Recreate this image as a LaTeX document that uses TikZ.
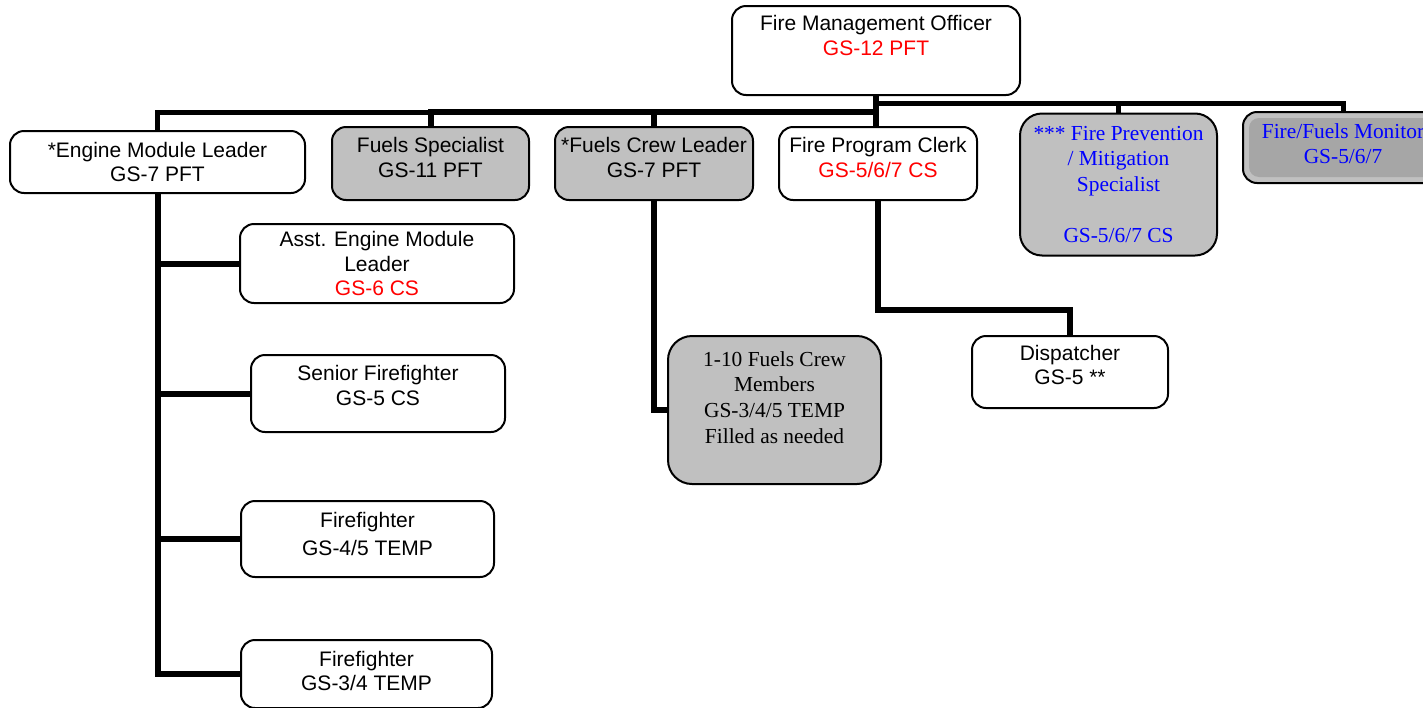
\documentclass[tikz,border=0pt]{standalone}
\usepackage{fontspec}
\setmainfont{Liberation Sans}
\newfontfamily\tnr{Liberation Serif}
\definecolor{gsred}{RGB}{255,0,0}
\definecolor{gsblue}{RGB}{0,0,255}
\definecolor{boxgray}{RGB}{192,192,192}
\definecolor{mongray}{RGB}{166,166,166}
\newcommand{\padline}[1]{\\[#1]\mbox{}}

\begin{document}
\begin{tikzpicture}[x=0.5pt, y=-0.5pt,
    posbox/.style={draw, line width=1pt, rounded corners=7pt, align=center, inner sep=2pt,
        font=\fontsize{10.5}{12.3}\selectfont},
    graybox/.style={posbox, fill=boxgray},
    serif/.style={font=\tnr\fontsize{10.7}{12.8}\selectfont},
    link/.style={line width=3pt}]
    \useasboundingbox (0,0) rectangle (1423,707);

    \node[posbox, minimum width=144pt, minimum height=44.5pt] (fmo) at (876,50.5)
        {Fire Management Officer\\\textcolor{gsred}{GS-12 PFT}\padline{3pt}};

    \node[posbox, minimum width=147.5pt, minimum height=31pt] (engine) at (157.5,162)
        {*Engine Module Leader\\GS-7 PFT};
    \node[graybox, minimum width=98.5pt, minimum height=36.5pt] (fuelsspec) at (430.5,163.5)
        {Fuels Specialist\\GS-11 PFT\padline{-6pt}};
    \node[graybox, minimum width=99pt, minimum height=36.5pt] (fuelslead) at (654,163.5)
        {*Fuels Crew Leader\\GS-7 PFT\padline{-6pt}};
    \node[posbox, minimum width=99pt, minimum height=36.5pt] (clerk) at (878,163.5)
        {Fire Program Clerk\\\textcolor{gsred}{GS-5/6/7 CS}\padline{-6pt}};
    \node[graybox, serif, text=gsblue, rounded corners=11pt, minimum width=98.5pt, minimum height=71pt]
        (prevention) at (1118.5,184.5)
        {*** Fire Prevention\\/ Mitigation\\Specialist\\[12.8pt]GS-5/6/7 CS};
    \node[graybox, serif, text=gsblue, minimum width=100pt, minimum height=35.5pt,
        path picture={\fill[mongray, rounded corners=5pt]
            ([shift={(3pt,-3pt)}]path picture bounding box.north west) rectangle
            ([shift={(-3pt,3pt)}]path picture bounding box.south east);}]
        (monitor) at (1343,147.5) {Fire/Fuels Monitor\\GS-5/6/7\padline{-9pt}};

    \node[posbox, minimum width=137pt, minimum height=39.5pt] (asst) at (377,263.5)
        {Asst. Engine Module\\Leader\\\textcolor{gsred}{GS-6 CS}};
    \node[posbox, minimum width=127pt, minimum height=38.5pt] (senior) at (378,393.5)
        {Senior Firefighter\\GS-5 CS\padline{-4pt}};
    \node[posbox, minimum width=126.5pt, minimum height=38pt] (ff1) at (367.5,539)
        {Firefighter\\[2pt]GS-4/5 TEMP\padline{-7pt}};
    \node[posbox, minimum width=125.5pt, minimum height=34pt] (ff2) at (366.5,674)
        {Firefighter\\GS-3/4 TEMP\padline{-9pt}};

    \node[graybox, serif, rounded corners=12pt, minimum width=106.5pt, minimum height=74pt] (crew) at (774.5,410)
        {1-10 Fuels Crew\\Members\\GS-3/4/5 TEMP\\Filled as needed\padline{0pt}};
    \node[posbox, minimum width=98pt, minimum height=36pt] (dispatcher) at (1070,372)
        {Dispatcher\\GS-5 **\padline{-5pt}};

    \coordinate (lbus) at (876,112);
    \coordinate (rbus) at (876,103);
    \coordinate (elbow) at (878,310);

    \draw[link] (fmo.south) -- (fmo.south |- clerk.north);
    \draw[link, line width=2.5pt] (engine.north) |- (lbus);
    \draw[link] (fuelsspec.north) |- (lbus);
    \draw[link] (fuelslead.north) -- (fuelslead.north |- lbus);
    \draw[link, line width=2.5pt] (rbus) -| (prevention.north);
    \draw[link, line width=2.5pt] (rbus) -| (monitor.north);

    \draw[link] (engine.south) |- (ff2.west);
    \foreach \n in {asst, senior, ff1}
        \draw[link] (engine.south |- \n.west) -- (\n.west);

    \draw[link] (fuelslead.south) |- (crew.west);
    \draw[link] (clerk.south) -- (elbow) -| (dispatcher.north);
\end{tikzpicture}
\end{document}
